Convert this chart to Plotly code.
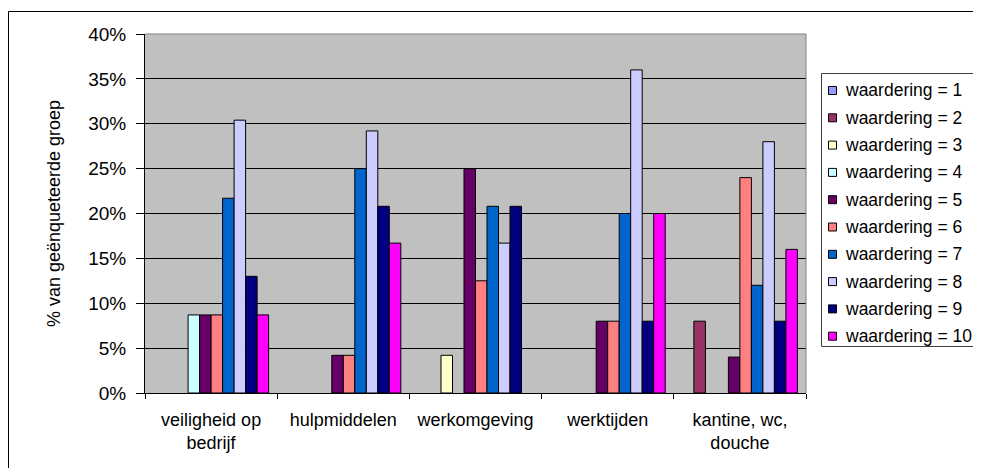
import plotly.graph_objects as go

categories = ["veiligheid op<br>bedrijf", "hulpmiddelen", "werkomgeving", "werktijden", "kantine, wc,<br>douche"]
series_names = ["waardering = %d" % i for i in range(1, 11)]
colors = ["#9999FF", "#993366", "#FFFFCC", "#CCFFFF", "#660066",
          "#FF8080", "#0066CC", "#CCCCFF", "#000080", "#FF00FF"]
# values in % per category, per rating 1..10
w1 = [0, 0, 0, 0, 0]
w2 = [0, 0, 0, 0, 8]
w3 = [0, 0, 4.2, 0, 0]
w4 = [8.7, 0, 0, 0, 0]
w5 = [8.7, 4.2, 25, 8, 4]
w6 = [8.7, 4.2, 12.5, 8, 24]
w7 = [21.7, 25, 20.8, 20, 12]
w8 = [30.4, 29.2, 16.7, 36, 28]
w9 = [13.0, 20.8, 20.8, 8, 8]
w10 = [8.7, 16.7, 0, 20, 16]
values = [w1, w2, w3, w4, w5, w6, w7, w8, w9, w10]
y_ticks = [0, 5, 10, 15, 20, 25, 30, 35, 40]

FONT = "Liberation Sans"
fig = go.Figure()
for name, col, vals in zip(series_names, colors, values):
    fig.add_trace(go.Bar(
        x=categories, y=[v if v > 0 else None for v in vals], name=name,
        marker=dict(color=col, line=dict(color="black", width=1)),
        showlegend=False,
    ))

# page offset (body margin) of the figure inside the screenshot
OFF = 8
W, H = 981 - OFF, 468 - OFF
PL, PT, PR, PB = 145, 34, 806, 393  # plot area in screenshot pixels
L, T = PL - OFF, PT - OFF
R, B = W - (PR - OFF), H - (PB - OFF)
pw, ph = PR - PL, PB - PT

def px(x):
    return (x - PL) / pw

def py(y):
    return (PB - y) / ph

shapes = [
    dict(type="rect", xref="paper", yref="paper",
         x0=px(8.5), x1=px(1100), y0=py(600), y1=py(11.5),
         line=dict(color="black", width=1), fillcolor="rgba(0,0,0,0)", layer="below"),
    dict(type="line", xref="paper", yref="paper", x0=0, x1=1, y0=1, y1=1,
         line=dict(color="#808080", width=1)),
    dict(type="line", xref="paper", yref="paper", x0=1, x1=1, y0=0, y1=1,
         line=dict(color="#808080", width=1)),
]
annotations = []

# legend box built from series names and colours
LX0, LY0, LY1 = 821.5, 73.5, 346.5
ROW0, ROWSTEP = 90.5, 27.3
shapes.append(dict(type="rect", xref="paper", yref="paper",
                   x0=px(LX0), x1=px(1100), y0=py(LY1), y1=py(LY0),
                   line=dict(color="#404040", width=1), fillcolor="white"))
for i, (name, col) in enumerate(zip(series_names, colors)):
    cy = ROW0 + i * ROWSTEP
    shapes.append(dict(type="rect", xref="paper", yref="paper",
                       x0=px(828.5), x1=px(836.5), y0=py(cy + 4), y1=py(cy - 4),
                       line=dict(color="black", width=1), fillcolor=col))
    annotations.append(dict(xref="paper", yref="paper", x=px(843), y=py(cy),
                            xanchor="left", yanchor="middle", text=name, showarrow=False,
                            font=dict(family=FONT, size=17.5, color="black")))

fig.update_layout(
    width=W, height=H,
    margin=dict(l=L, r=R, t=T, b=B, autoexpand=False),
    paper_bgcolor="white", plot_bgcolor="#C0C0C0",
    barmode="group", bargap=0.13, bargroupgap=0,
    font=dict(family=FONT, size=18, color="black"),
    showlegend=False,
    xaxis=dict(
        showline=True, linecolor="black", linewidth=1, mirror=False,
        ticks="outside", tickson="boundaries", ticklen=5, tickcolor="black",
        ticklabelstandoff=10,
        tickfont=dict(size=18), showgrid=False,
    ),
    yaxis=dict(
        range=[0, 40], tickvals=y_ticks, ticktext=["%d%%" % v for v in y_ticks],
        showline=True, linecolor="black", linewidth=1,
        ticks="outside", ticklen=8, tickcolor="black", ticklabelstandoff=6,
        gridcolor="black", gridwidth=1, zeroline=False,
        tickfont=dict(size=19),
        title=dict(text="% van geënqueteerde groep", font=dict(size=18), standoff=22),
    ),
    shapes=shapes,
    annotations=annotations,
)

fig.write_html("out.html")
